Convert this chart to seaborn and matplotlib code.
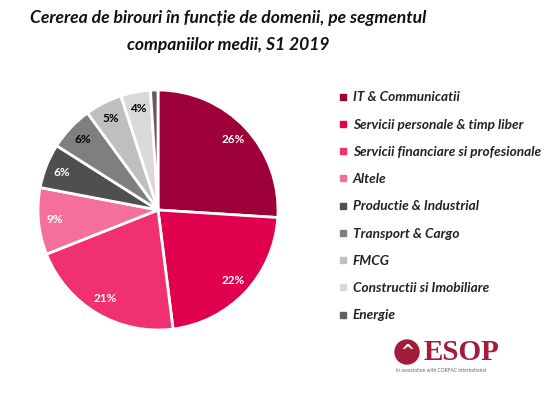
import matplotlib
matplotlib.use("Agg")
import matplotlib.pyplot as plt
from matplotlib.lines import Line2D
from matplotlib.patches import Ellipse
import numpy as np
import seaborn as sns

sns.set_theme(style="white")
plt.rcParams['font.family'] = ['Lato', 'DejaVu Sans']

categories = ["IT & Communicatii", "Servicii personale & timp liber",
              "Servicii financiare si profesionale", "Altele",
              "Productie & Industrial", "Transport & Cargo", "FMCG",
              "Constructii si Imobiliare", "Energie"]
values = [26, 22, 21, 9, 6, 6, 5, 4, 1]
labels = ["26%", "22%", "21%", "9%", "6%", "6%", "5%", "4%", ""]
colors = ["#9e0039", "#e0004d", "#f0306f", "#f46f9c", "#4f4f4f",
          "#7f7f7f", "#bfbfbf", "#d9d9d9", "#5f5f5f"]
label_colors = ["white", "white", "white", "white", "white",
                "black", "black", "black", "black"]

W, H = 559, 393
fig = plt.figure(figsize=(W / 100, H / 100), dpi=100)
cx, cy, r = 158, 210, 120
ax = fig.add_axes([(cx - r) / W, (H - cy - r) / H, 2 * r / W, 2 * r / H])

wedges, _ = ax.pie(values, colors=colors, startangle=90, counterclock=False,
                   wedgeprops=dict(edgecolor="white", linewidth=2))
ax.set_xlim(-1, 1)
ax.set_ylim(-1, 1)
ax.set_aspect("equal")
ax.axis("off")

start = 90.0
total = sum(values)
for v, lab, lc in zip(values, labels, label_colors):
    ang = start - 360 * v / total / 2
    start -= 360 * v / total
    if lab:
        d = 0.86
        ax.text(d * np.cos(np.radians(ang)), d * np.sin(np.radians(ang)), lab,
                ha="center", va="center", color=lc, fontsize=8.5,
                fontweight="bold")

fig.text(228 / W, 1 - 18 / H, "Cererea de birouri în funcție de domenii, pe segmentul",
         ha="center", va="center", fontsize=12.6, fontweight="bold",
         fontstyle="italic", color="#111111")
fig.text(228 / W, 1 - 45 / H, "companiilor medii, S1 2019",
         ha="center", va="center", fontsize=12.6, fontweight="bold",
         fontstyle="italic", color="#111111")

handles = [Line2D([0], [0], marker="s", linestyle="none", markersize=5,
                  markerfacecolor=c, markeredgecolor=c) for c in colors]
leg = fig.legend(handles, categories, loc="upper left",
                 bbox_to_anchor=(333 / W, 1 - 86 / H), frameon=False,
                 handlelength=0.6, handletextpad=0.45, labelspacing=1.12,
                 borderaxespad=0,
                 prop=dict(size=9.8, weight="bold", style="italic"))
for t in leg.get_texts():
    t.set_color("#222222")

# logo
fig.patches.append(Ellipse((407 / W, 1 - 352 / H), 24 / W, 24 / H,
                           transform=fig.transFigure, color="#a31d3a"))
fig.text(407 / W, 1 - 352 / H, "^", ha="center", va="center",
         fontsize=12, fontweight="bold", color="white", family="DejaVu Sans")
fig.text(461 / W, 1 - 352 / H, "ESOP", ha="center", va="center",
         fontsize=21, fontweight="bold", family="Liberation Serif",
         color="#a31d3a")
fig.text(396 / W, 1 - 371 / H, "in association with CORFAC International",
         ha="left", va="center", fontsize=3.5, color="#666666")

fig.savefig("out.png", dpi=100)
